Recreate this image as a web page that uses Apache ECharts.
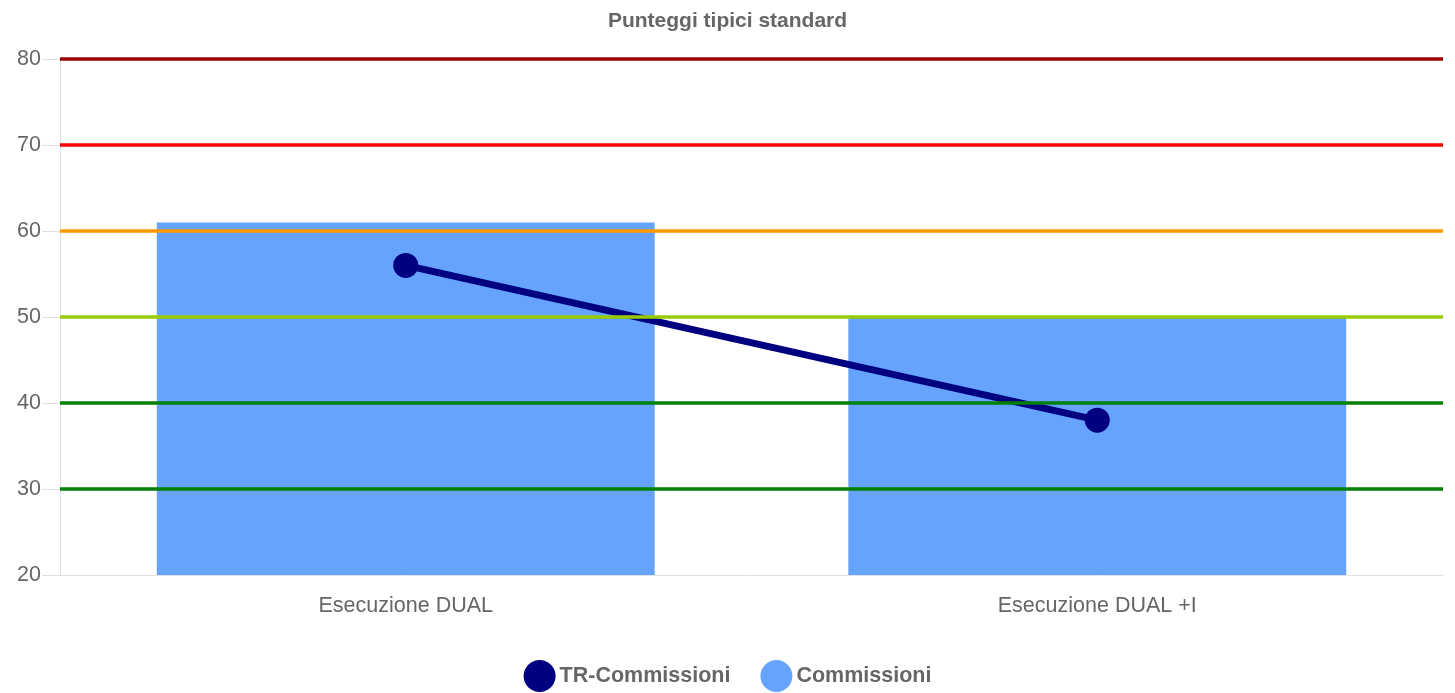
<!DOCTYPE html>
<html>
<head>
<meta charset="utf-8">
<script src="https://cdn.jsdelivr.net/npm/echarts@6/dist/echarts.min.js"></script>
<style>
  html, body { margin: 0; padding: 0; background: #fff; }
  #chart { width: 1455px; height: 693px; }
</style>
</head>
<body>
<div id="chart"></div>
<script>
// Categories and series values
const categories = ['Esecuzione DUAL', 'Esecuzione DUAL +I'];
const trCommissioni = [56, 38];
const commissioni = [61, 50];

// Threshold reference lines (value, colour)
const thresholdValues = [30, 40, 50, 60, 70, 80];
const thresholdColors = ['#008000', '#008000', '#99cc00', '#ff9900', '#ff0000', '#990000'];

const font = '"Liberation Sans", Arial, sans-serif';

const chart = echarts.init(document.getElementById('chart'));
chart.setOption({
  animation: false,
  title: {
    text: 'Punteggi tipici standard',
    left: 'center',
    top: 6,
    textStyle: { color: '#666', fontSize: 21, fontWeight: 'bold', fontFamily: font }
  },
  legend: {
    bottom: 1,
    padding: 0,
    left: 'center',
    icon: 'circle',
    itemWidth: 32,
    itemHeight: 32,
    itemGap: 30,
    data: ['TR-Commissioni', 'Commissioni'],
    textStyle: { color: '#666', fontSize: 21.5, fontWeight: 'bold', fontFamily: font, padding: [0, 0, 0, -1] }
  },
  grid: { left: 60, right: 12, top: 59, bottom: 118 },
  xAxis: {
    type: 'category',
    data: categories,
    axisLine: { lineStyle: { color: '#e0e0e0', width: 1 } },
    axisTick: { show: false },
    axisLabel: { color: '#666', fontSize: 21.5, fontFamily: font, margin: 20 },
    splitLine: { show: false }
  },
  yAxis: {
    type: 'value',
    min: 20,
    max: 80,
    interval: 10,
    axisLine: { show: true, lineStyle: { color: '#e0e0e0', width: 1 } },
    axisTick: { show: true, length: 18, lineStyle: { color: '#e0e0e0' } },
    axisLabel: { color: '#666', fontSize: 21.5, fontFamily: font, margin: 19 },
    splitLine: { show: false }
  },
  series: [
    {
      // carries the threshold lines underneath the bars
      name: 'soglie',
      type: 'line',
      data: [],
      z: 1,
      silent: true,
      markLine: {
        silent: true,
        symbol: 'none',
        label: { show: false },
        data: thresholdValues.map((v, i) => ({
          yAxis: v,
          lineStyle: { color: thresholdColors[i], width: 3.5, type: 'solid' }
        }))
      }
    },
    {
      name: 'Commissioni',
      type: 'bar',
      data: commissioni,
      z: 2,
      barWidth: '72%',
      itemStyle: { color: '#66a3ff' }
    },
    {
      name: 'TR-Commissioni',
      type: 'line',
      data: trCommissioni,
      z: 3,
      symbol: 'circle',
      symbolSize: 25,
      lineStyle: { color: '#000080', width: 7 },
      itemStyle: { color: '#000080' }
    }
  ]
});
</script>
</body>
</html>
